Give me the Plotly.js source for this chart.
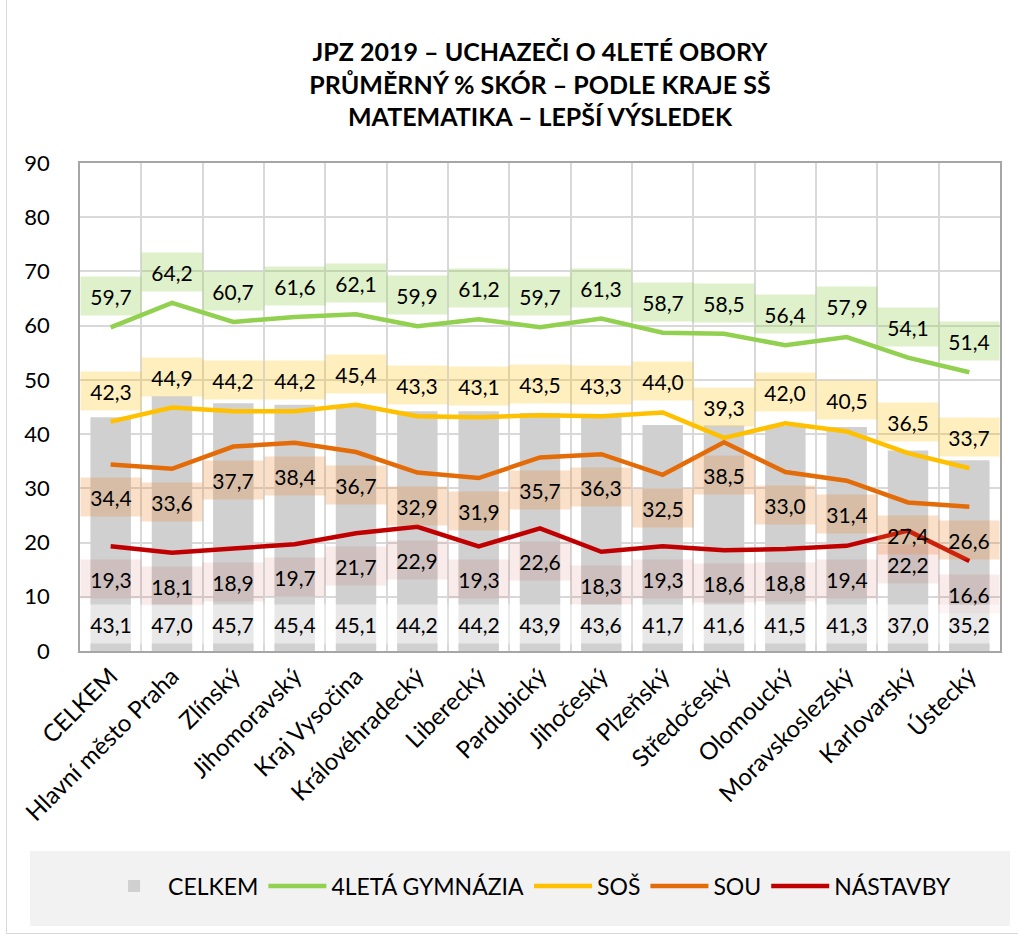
<!DOCTYPE html>
<html>
<head>
<meta charset="utf-8">
<script src="https://cdn.plot.ly/plotly-3.0.1.min.js"></script>
<style>
html,body{margin:0;padding:0;background:#fff;}
#wrap{position:relative;width:1018px;height:936px;}
#chart{width:1018px;height:936px;}
#frame{position:absolute;left:6px;top:-2px;width:1020px;height:936px;border:1px solid #d9d9d9;pointer-events:none;box-sizing:border-box;}
</style>
</head>
<body>
<div id="wrap"><div id="chart"></div><div id="frame"></div></div>
<script>
const categories = ["CELKEM","Hlavní město Praha","Zlínský","Jihomoravský","Kraj Vysočina","Královéhradecký","Liberecký","Pardubický","Jihočeský","Plzeňský","Středočeský","Olomoucký","Moravskoslezský","Karlovarský","Ústecký"];
const celkem = [43.1,47.0,45.7,45.4,45.1,44.2,44.2,43.9,43.6,41.7,41.6,41.5,41.3,37.0,35.2];
const gymnazia = [59.7,64.2,60.7,61.6,62.1,59.9,61.2,59.7,61.3,58.7,58.5,56.4,57.9,54.1,51.4];
const sos = [42.3,44.9,44.2,44.2,45.4,43.3,43.1,43.5,43.3,44.0,39.3,42.0,40.5,36.5,33.7];
const sou = [34.4,33.6,37.7,38.4,36.7,32.9,31.9,35.7,36.3,32.5,38.5,33.0,31.4,27.4,26.6];
const nastavby = [19.3,18.1,18.9,19.7,21.7,22.9,19.3,22.6,18.3,19.3,18.6,18.8,19.4,22.2,16.6];
const yTicks = [0,10,20,30,40,50,60,70,80,90];

const FONT = "Lato, 'Open Sans', sans-serif";
const fmt = v => v.toFixed(1).replace('.', ',');

const traces = [
  {type:'bar', name:'CELKEM', x:categories, y:celkem, marker:{color:'#d0d0d0'}, width:0.66, hoverinfo:'y'},
  {type:'scatter', mode:'lines', name:'4LETÁ GYMNÁZIA', x:categories, y:gymnazia, line:{color:'#92d050', width:4.5}},
  {type:'scatter', mode:'lines', name:'SOŠ', x:categories, y:sos, line:{color:'#ffc000', width:4.5}},
  {type:'scatter', mode:'lines', name:'SOU', x:categories, y:sou, line:{color:'#e36c09', width:4.5}},
  {type:'scatter', mode:'lines', name:'NÁSTAVBY', x:categories, y:nastavby, line:{color:'#c00000', width:4.5}}
];

const annotations = [];
function addLabels(vals, shift, bg, atBase){
  vals.forEach((v,i)=>{
    annotations.push({
      x: categories[i], y: atBase ? 0 : v, xref:'x', yref:'y',
      text: fmt(v), showarrow:false, yshift: shift,
      width: 58, height: 36, bgcolor: bg,
      font:{family:FONT, size:21, color:'#000'}
    });
  });
}
addLabels(gymnazia, 31, 'rgba(146,208,80,0.3)', false);
addLabels(sos, 31, 'rgba(255,192,0,0.25)', false);
addLabels(sou, -33, 'rgba(240,130,40,0.25)', false);
addLabels(nastavby, -33, 'rgba(192,0,0,0.08)', false);
addLabels(celkem, 27, 'rgba(255,255,255,0.5)', true);

const layout = {
  width:1018, height:936,
  margin:{l:80, r:18, t:163, b:285},
  paper_bgcolor:'#ffffff', plot_bgcolor:'#ffffff',
  font:{family:FONT, size:20, color:'#000'},
  separators:', ',
  title:{
    text:'JPZ 2019 – UCHAZEČI O 4LETÉ OBORY<br>PRŮMĚRNÝ % SKÓR – PODLE KRAJE SŠ<br>MATEMATIKA – LEPŠÍ VÝSLEDEK',
    font:{family:FONT, size:25, color:'#000', weight:'bold'},
    x:0.5, xanchor:'center', xref:'paper', yref:'container', y:1-61/936, yanchor:'middle'
  },
  xaxis:{
    type:'category', tickson:'boundaries', showgrid:true, gridcolor:'#d9d9d9', gridwidth:1.5,
    showline:true, mirror:true, linecolor:'#a6a6a6', linewidth:1.5,
    ticks:'', tickangle:-45, tickfont:{family:FONT, size:24, color:'#000'},
    range:[-0.5, 14.5]
  },
  yaxis:{
    range:[0,90], tickvals:yTicks, showgrid:true, gridcolor:'#d9d9d9', gridwidth:1.5,
    showline:true, mirror:true, linecolor:'#a6a6a6', linewidth:1.5, zeroline:false,
    ticks:'', ticklabelstandoff:24, tickfont:{family:FONT, size:22, color:'#000'}
  },
  showlegend:true,
  legend:{
    orientation:'h', x:0.487, xanchor:'center', y:(651-886)/488, yanchor:'middle',
    font:{family:FONT, size:23, color:'#000'}, bgcolor:'rgba(0,0,0,0)', traceorder:'normal',
    itemwidth:58
  },
  shapes:[
    {type:'rect', xref:'paper', yref:'paper', x0:(30-80)/920, x1:(1010-80)/920, y0:(651-926)/488, y1:(651-851)/488,
     fillcolor:'#f2f2f2', line:{width:0}, layer:'below'}
  ],
  annotations: annotations
};

Plotly.newPlot('chart', traces, layout, {displayModeBar:false, responsive:false});
</script>
</body>
</html>
